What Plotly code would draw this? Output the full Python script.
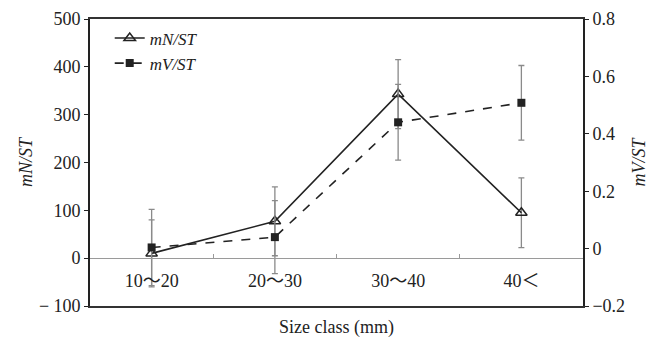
import plotly.graph_objects as go

categories = ["10～20", "20～30", "30～40", "40＜"]
mN_ST = [10, 77, 343, 95]
mN_err = [70, 72, 72, 73]
mV_ST = [0.004, 0.04, 0.44, 0.508]
mV_err = [0.133, 0.127, 0.132, 0.13]

left_ticks = [-100, 0, 100, 200, 300, 400, 500]
left_labels = ["− 100", "0", "100", "200", "300", "400", "500"]
right_ticks = [-0.2, 0, 0.2, 0.4, 0.6, 0.8]
right_labels = ["−0.2", "0", "0.2", "0.4", "0.6", "0.8"]

FONT = "Liberation Serif, Times New Roman, Noto Sans CJK JP, serif"
ERR_COLOR = "#8a8a8a"
TXT = "#222222"

fig = go.Figure()

fig.add_trace(go.Scatter(
    x=categories, y=mV_ST, name="<i>mV/ST</i>", yaxis="y2",
    mode="lines+markers",
    line=dict(color=TXT, width=1.6, dash="dash"),
    marker=dict(symbol="square", size=8, color=TXT),
    error_y=dict(type="data", array=mV_err, visible=True, color=ERR_COLOR,
                 thickness=1.3, width=3),
))
fig.add_trace(go.Scatter(
    x=categories, y=mN_ST, name="<i>mN/ST</i>",
    mode="lines+markers",
    line=dict(color=TXT, width=1.6),
    marker=dict(symbol="triangle-up-open", size=10, color=TXT,
                line=dict(width=1.5)),
    error_y=dict(type="data", array=mN_err, visible=True, color=ERR_COLOR,
                 thickness=1.3, width=3),
))
# invisible helper trace for the category axis drawn on the zero line
fig.add_trace(go.Scatter(
    x=categories, y=mN_ST, xaxis="x2", mode="markers",
    marker=dict(opacity=0), showlegend=False, hoverinfo="skip",
))

fig.update_layout(
    width=651, height=330,
    margin=dict(l=82, r=76, t=11, b=32),
    paper_bgcolor="white", plot_bgcolor="white",
    font=dict(family=FONT, size=18, color=TXT),
    showlegend=True,
    legend=dict(x=0.04, y=0.995, xanchor="left", yanchor="top",
                traceorder="reversed", bgcolor="rgba(0,0,0,0)",
                font=dict(family=FONT, size=17, color=TXT),
                itemwidth=30, tracegroupgap=0),
    xaxis=dict(
        type="category", categoryorder="array", categoryarray=categories,
        range=[-0.5, 3.5], showline=True, mirror=True, linecolor="#333333",
        linewidth=1.6, showticklabels=False, ticks="", showgrid=False,
        zeroline=False,
        title=dict(text="Size class (mm)", standoff=14,
                   font=dict(family=FONT, size=18, color=TXT)),
        automargin=False,
    ),
    xaxis2=dict(
        type="category", categoryorder="array", categoryarray=categories,
        overlaying="x", matches="x", anchor="free", position=1/6,
        showline=True, linecolor="#9a9a9a", linewidth=1,
        ticks="inside", ticklen=4, tickcolor="#9a9a9a", tickson="boundaries",
        showgrid=False, zeroline=False, ticklabelstandoff=6,
        tickfont=dict(family=FONT, size=18, color=TXT),
    ),
    yaxis=dict(
        range=[-100, 500], tickvals=left_ticks, ticktext=left_labels,
        showline=True, linecolor=TXT, linewidth=1.6,
        ticks="outside", ticklen=4, tickcolor=TXT,
        showgrid=False, zeroline=False, ticklabeloverflow="allow",
        tickfont=dict(family=FONT, size=18, color=TXT),
        title=dict(text="<i>mN/ST</i>", standoff=2,
                   font=dict(family=FONT, size=18, color=TXT)),
        automargin=False,
    ),
    yaxis2=dict(
        range=[-0.2, 0.8], tickvals=right_ticks, ticktext=right_labels,
        overlaying="y", side="right", anchor="x",
        showline=True, linecolor=TXT, linewidth=1.6,
        ticks="outside", ticklen=4, tickcolor=TXT,
        showgrid=False, zeroline=False, ticklabeloverflow="allow",
        tickfont=dict(family=FONT, size=18, color=TXT),
        title=dict(text="<i>mV/ST</i>", standoff=8,
                   font=dict(family=FONT, size=18, color=TXT)),
        automargin=False,
    ),
)

fig.write_html("out.html")
